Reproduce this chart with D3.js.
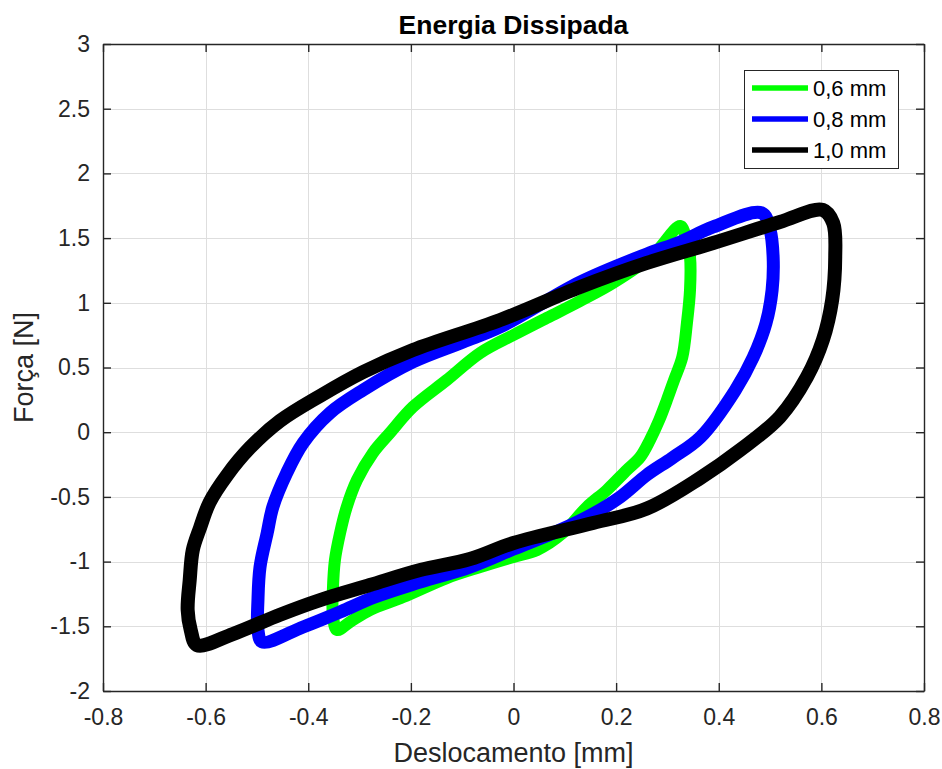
<!DOCTYPE html>
<html>
<head>
<meta charset="utf-8">
<script src="https://cdn.jsdelivr.net/npm/d3@7/dist/d3.min.js"></script>
<style>
  body { margin: 0; background: #fff; }
  text { font-family: "Liberation Sans", Arial, Helvetica, sans-serif; fill: #262626; }
</style>
</head>
<body>
<svg id="chart" width="942" height="769"></svg>
<script>
// Hysteresis loops: displacement [mm] vs force [N], one closed loop per amplitude
const loop06 = [
  [-0.344, -1.528], [-0.319, -1.467], [-0.280, -1.374], [-0.215, -1.274], [-0.130, -1.127],
  [-0.065, -1.042], [0.000, -0.964], [0.046, -0.910], [0.096, -0.779], [0.143, -0.578],
  [0.182, -0.447], [0.221, -0.292], [0.247, -0.192], [0.266, -0.060], [0.284, 0.094],
  [0.299, 0.249], [0.313, 0.404], [0.329, 0.581], [0.338, 0.844], [0.344, 1.099],
  [0.344, 1.354], [0.336, 1.508], [0.325, 1.593],
  [0.272, 1.369], [0.194, 1.153], [0.130, 1.014], [0.065, 0.883], [0.000, 0.751],
  [-0.065, 0.612], [-0.130, 0.403], [-0.196, 0.195], [-0.241, -0.006], [-0.274, -0.160],
  [-0.305, -0.369], [-0.325, -0.578], [-0.338, -0.779], [-0.348, -0.988], [-0.352, -1.220],
  [-0.352, -1.413]
];
const loop08 = [
  [-0.490, -1.621], [-0.410, -1.505], [-0.338, -1.389], [-0.270, -1.273], [-0.182, -1.158],
  [-0.085, -1.042], [0.000, -0.903], [0.091, -0.756], [0.155, -0.632], [0.208, -0.501],
  [0.260, -0.330], [0.309, -0.200], [0.364, -0.040], [0.432, 0.323], [0.467, 0.578],
  [0.492, 0.841], [0.504, 1.099], [0.506, 1.354], [0.500, 1.563], [0.484, 1.694],
  [0.389, 1.586], [0.325, 1.470], [0.260, 1.377], [0.130, 1.160], [-0.026, 0.813],
  [-0.098, 0.697], [-0.196, 0.543], [-0.293, 0.326], [-0.358, 0.148], [-0.410, -0.083],
  [-0.442, -0.315], [-0.469, -0.578], [-0.480, -0.779], [-0.494, -1.042], [-0.498, -1.297],
  [-0.498, -1.529]
];
const loop10 = [
  [-0.617, -1.645], [-0.547, -1.560], [-0.455, -1.410], [-0.377, -1.297], [-0.280, -1.181],
  [-0.182, -1.065], [-0.085, -0.980], [0.000, -0.856], [0.155, -0.702], [0.260, -0.590],
  [0.364, -0.354], [0.442, -0.137], [0.519, 0.118], [0.572, 0.427], [0.603, 0.713],
  [0.621, 1.022], [0.627, 1.354], [0.623, 1.616], [0.603, 1.717],
  [0.519, 1.624], [0.389, 1.462], [0.260, 1.308], [0.130, 1.122], [-0.026, 0.867],
  [-0.196, 0.635], [-0.293, 0.465], [-0.377, 0.280], [-0.455, 0.087], [-0.514, -0.122],
  [-0.558, -0.331], [-0.592, -0.540], [-0.611, -0.740], [-0.625, -0.910], [-0.631, -1.142],
  [-0.635, -1.374], [-0.629, -1.529]
];

const seriesNames = ["0,6 mm", "0,8 mm", "1,0 mm"];
const seriesColors = ["#00ff00", "#0000ff", "#000000"];
const seriesLoops = [loop06, loop08, loop10];

const xTicks = [-0.8, -0.6, -0.4, -0.2, 0, 0.2, 0.4, 0.6, 0.8];
const xTickLabels = ["-0.8", "-0.6", "-0.4", "-0.2", "0", "0.2", "0.4", "0.6", "0.8"];
const yTicks = [-2, -1.5, -1, -0.5, 0, 0.5, 1, 1.5, 2, 2.5, 3];
const yTickLabels = ["-2", "-1.5", "-1", "-0.5", "0", "0.5", "1", "1.5", "2", "2.5", "3"];

const titleText = "Energia Dissipada";
const xLabelText = "Deslocamento [mm]";
const yLabelText = "Força [N]";

// Layout
const W = 942, H = 769;
const plot = { left: 103, right: 924, top: 44, bottom: 691 };
const axisColor = "#262626";
const tickLen = 8;

const svg = d3.select("#chart");
svg.append("rect").attr("width", W).attr("height", H).attr("fill", "#fff");

const x = d3.scaleLinear().domain([-0.8, 0.8]).range([plot.left, plot.right]);
const y = d3.scaleLinear().domain([-2, 3]).range([plot.bottom, plot.top]);

// Grid
const grid = svg.append("g").attr("stroke", "#dedede").attr("stroke-width", 1);
grid.selectAll("line.gx").data(xTicks.slice(1, -1)).join("line")
  .attr("x1", d => Math.round(x(d)) + 0.5).attr("x2", d => Math.round(x(d)) + 0.5)
  .attr("y1", plot.top).attr("y2", plot.bottom);
grid.selectAll("line.gy").data(yTicks.slice(1, -1)).join("line")
  .attr("y1", d => Math.round(y(d)) + 0.5).attr("y2", d => Math.round(y(d)) + 0.5)
  .attr("x1", plot.left).attr("x2", plot.right);

// Loops
const line = d3.line()
  .x(d => x(d[0])).y(d => y(d[1]))
  .curve(d3.curveCatmullRomClosed.alpha(0.5));

const strokeWidths = [12, 13, 14];
svg.append("g").selectAll("path").data(seriesLoops).join("path")
  .attr("d", line)
  .attr("fill", "none")
  .attr("stroke", (d, i) => seriesColors[i])
  .attr("stroke-width", (d, i) => strokeWidths[i])
  .attr("stroke-linejoin", "round")
  .attr("stroke-linecap", "round");

// Axes (box with mirrored inward ticks)
const fmtX = d => xTickLabels[xTicks.indexOf(d)];
const fmtY = d => yTickLabels[yTicks.indexOf(d)];

const axB = svg.append("g").attr("transform", `translate(0,${plot.bottom})`)
  .call(d3.axisBottom(x).tickValues(xTicks).tickFormat(fmtX).tickSizeInner(-tickLen).tickSizeOuter(0).tickPadding(18));
const axT = svg.append("g").attr("transform", `translate(0,${plot.top})`)
  .call(d3.axisTop(x).tickValues(xTicks).tickFormat("").tickSizeInner(-tickLen).tickSizeOuter(0));
const axL = svg.append("g").attr("transform", `translate(${plot.left},0)`)
  .call(d3.axisLeft(y).tickValues(yTicks).tickFormat(fmtY).tickSizeInner(-tickLen).tickSizeOuter(0).tickPadding(13));
const axR = svg.append("g").attr("transform", `translate(${plot.right},0)`)
  .call(d3.axisRight(y).tickValues(yTicks).tickFormat("").tickSizeInner(-tickLen).tickSizeOuter(0));

[axB, axT, axL, axR].forEach(g => {
  g.select(".domain").attr("stroke", axisColor).attr("stroke-width", 1.4);
  g.selectAll(".tick line").attr("stroke", axisColor).attr("stroke-width", 1.4);
  g.selectAll(".tick text").attr("fill", axisColor)
    .style("font-size", "23px").style("font-family", '"Liberation Sans", Arial, sans-serif');
});

// Title and axis labels
svg.append("text").attr("x", (plot.left + plot.right) / 2).attr("y", 34)
  .attr("text-anchor", "middle").style("font-size", "26.5px").style("font-weight", "bold")
  .style("fill", "#000").text(titleText);
svg.append("text").attr("x", (plot.left + plot.right) / 2).attr("y", 762)
  .attr("text-anchor", "middle").style("font-size", "27px").text(xLabelText);
svg.append("text").attr("transform", `translate(33,${(plot.top + plot.bottom) / 2}) rotate(-90)`)
  .attr("text-anchor", "middle").style("font-size", "27px").text(yLabelText);

// Legend
const leg = svg.append("g");
leg.append("rect").attr("x", 744.5).attr("y", 70.5).attr("width", 154).attr("height", 98)
  .attr("fill", "#fff").attr("stroke", "#262626").attr("stroke-width", 1);
seriesNames.forEach((name, i) => {
  const cy = 88 + i * 31;
  leg.append("line").attr("x1", 752).attr("x2", 808).attr("y1", cy).attr("y2", cy)
    .attr("stroke", seriesColors[i]).attr("stroke-width", 5.5);
  leg.append("text").attr("x", 813).attr("y", cy + 7.5).style("font-size", "22px")
    .style("fill", "#000").text(name);
});
</script>
</body>
</html>
